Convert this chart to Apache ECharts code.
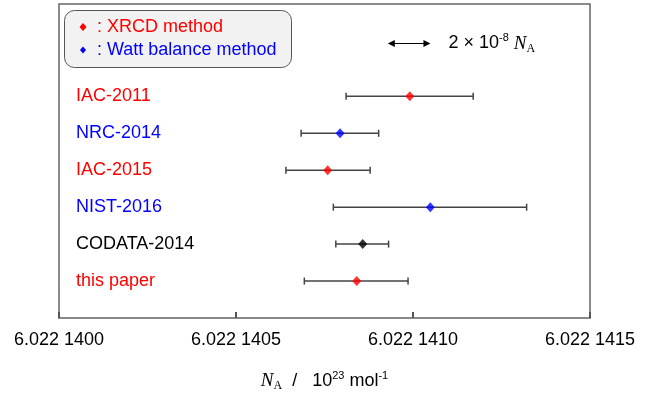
<!DOCTYPE html>
<html><head><meta charset="utf-8">
<script src="https://cdn.jsdelivr.net/npm/echarts@6/dist/echarts.min.js"></script>
<style>html,body{margin:0;padding:0;background:#fff}#c{width:650px;height:394px}</style>
</head><body><div id="c"></div>
<script>
// values in units of 1e16 mol^-1 (last digits after 6.022 1...)
const labels  = ['IAC-2011','NRC-2014','IAC-2015','NIST-2016','CODATA-2014','this paper'];
const centers = [1409.91, 1407.94, 1407.59, 1410.49, 1408.58, 1408.41];
const lows    = [1408.11, 1406.84, 1406.41, 1407.75, 1407.82, 1406.93];
const highs   = [1411.70, 1409.03, 1408.79, 1413.21, 1409.31, 1409.86];
const colors  = ['#ff0000','#0000ff','#ff0000','#0000ff','#000000','#ff0000'];
const xTickLabels = ['6.022 1400','6.022 1405','6.022 1410','6.022 1415'];
const xMin = 1400, xMax = 1415, xStep = 5;
const legendItems = [': XRCD method', ': Watt balance method'];
const legendColors = ['#ff0000', '#0000ff'];
const scaleBarCenter = 1409.89, scaleBarRow = -1.45, scaleBarWidth = 1.2044; // 2e-8 * N_A

const FONT = '"Liberation Sans", Arial, sans-serif';
const SERIF = '"Liberation Serif", "Times New Roman", serif';

const chart = echarts.init(document.getElementById('c'));

function diamond(cx, cy, w, h, color) {
  return {type:'polygon', shape:{points:[[cx,cy-h/2],[cx+w/2,cy],[cx,cy+h/2],[cx-w/2,cy]]}, style:{fill:color}};
}

chart.setOption({
  animation: false,
  grid: {left: 59, right: 60, top: 4, bottom: 76, show: true, borderColor: '#666', borderWidth: 1.5,
         containLabel: false, outerBoundsMode: 'none'},
  xAxis: {
    type: 'value', min: xMin, max: xMax, interval: xStep,
    axisLine: {show: true, onZero: false, lineStyle: {color: '#888', width: 2}},
    axisTick: {show: true, inside: true, length: 6, lineStyle: {color: '#555', width: 2}},
    splitLine: {show: false},
    axisLabel: {
      color: '#000', fontSize: 18, fontFamily: FONT, margin: 13,
      formatter: v => xTickLabels[Math.round((v - xMin) / xStep)]
    },
    name: '{ni|N}{sub|A}{t|  /   10}{sup|23}{t| mol}{sup|-1}',
    nameLocation: 'middle', nameGap: 52,
    nameTextStyle: {
      rich: {
        ni: {fontFamily: SERIF, fontStyle: 'italic', fontSize: 19, color: '#000', lineHeight: 22, verticalAlign: 'middle'},
        sub: {fontFamily: SERIF, fontSize: 12, color: '#000', lineHeight: 12, verticalAlign: 'bottom'},
        t: {fontFamily: FONT, fontSize: 18, color: '#000', lineHeight: 22, verticalAlign: 'middle'},
        sup: {fontFamily: FONT, fontSize: 11, color: '#000', lineHeight: 11, verticalAlign: 'top'}
      }
    }
  },
  yAxis: {
    type: 'value', min: -2.5, max: 6, inverse: true,
    axisLine: {show: false}, axisTick: {show: false}, axisLabel: {show: false}, splitLine: {show: false}
  },
  series: [
    {
      type: 'custom', z: 2,
      data: labels.map((l, i) => [lows[i], highs[i], i]),
      encode: {x: [0, 1], y: 2},
      renderItem: (params, api) => {
        const p1 = api.coord([api.value(0), api.value(2)]);
        const p2 = api.coord([api.value(1), api.value(2)]);
        const st = {stroke: '#444', lineWidth: 1.5};
        return {type: 'group', children: [
          {type: 'line', shape: {x1: p1[0], y1: p1[1], x2: p2[0], y2: p2[1]}, style: st},
          {type: 'line', shape: {x1: p1[0], y1: p1[1]-3.5, x2: p1[0], y2: p1[1]+3.5}, style: st},
          {type: 'line', shape: {x1: p2[0], y1: p2[1]-3.5, x2: p2[0], y2: p2[1]+3.5}, style: st}
        ]};
      }
    },
    {
      type: 'scatter', z: 3, symbol: 'diamond', symbolSize: [9, 10],
      data: centers.map((c, i) => ({value: [c, i], itemStyle: {color: colors[i]}}))
    },
    {
      type: 'custom', z: 3,
      data: labels.map((l, i) => [xMin, i]),
      renderItem: (params, api) => {
        const i = params.dataIndex;
        const p = api.coord([api.value(0), api.value(1)]);
        return {type: 'text', style: {text: labels[i], x: p[0] + 17, y: p[1], fill: colors[i],
          font: '18px ' + FONT, verticalAlign: 'middle', align: 'left'}};
      }
    },
    {
      type: 'custom', z: 3,
      data: [[scaleBarCenter, scaleBarRow]],
      renderItem: (params, api) => {
        const a = api.coord([api.value(0) - scaleBarWidth / 2, api.value(1)]);
        const b = api.coord([api.value(0) + scaleBarWidth / 2, api.value(1)]);
        const y = Math.round(a[1]) + 0.5;
        return {type: 'group', children: [
          {type: 'line', shape: {x1: a[0] + 4, y1: y, x2: b[0] - 4, y2: y}, style: {stroke: '#000', lineWidth: 1.2}},
          {type: 'polygon', shape: {points: [[a[0], y], [a[0] + 7, y - 3.5], [a[0] + 7, y + 3.5]]}, style: {fill: '#000'}},
          {type: 'polygon', shape: {points: [[b[0], y], [b[0] - 7, y - 3.5], [b[0] - 7, y + 3.5]]}, style: {fill: '#000'}},
          {type: 'text', style: {
            text: '{t|2 × 10}{sup|-8}{t| }{ni|N}{sub|A}', x: b[0] + 18, y: y, verticalAlign: 'middle', align: 'left',
            rich: {
              t: {fontFamily: FONT, fontSize: 18, fill: '#000', lineHeight: 22, verticalAlign: 'middle'},
              sup: {fontFamily: FONT, fontSize: 11, fill: '#000', lineHeight: 11, verticalAlign: 'top'},
              ni: {fontFamily: SERIF, fontStyle: 'italic', fontSize: 19, fill: '#000', lineHeight: 22, verticalAlign: 'middle'},
              sub: {fontFamily: SERIF, fontSize: 12, fill: '#000', lineHeight: 12, verticalAlign: 'bottom'}
            }
          }}
        ]};
      }
    }
  ],
  graphic: [{
    type: 'group', z: 10,
    children: [
      {type: 'rect', shape: {x: 64.5, y: 10.5, width: 227, height: 57, r: 10}, style: {fill: '#f2f2f2', stroke: '#555', lineWidth: 1}},
      diamond(83, 27, 7, 8, legendColors[0]),
      diamond(83, 50, 6, 7, legendColors[1]),
      {type: 'text', style: {text: legendItems[0], x: 97, y: 27, fill: legendColors[0], font: '18px ' + FONT, verticalAlign: 'middle'}},
      {type: 'text', style: {text: legendItems[1], x: 97, y: 50, fill: legendColors[1], font: '18px ' + FONT, verticalAlign: 'middle'}}
    ]
  }]
});
</script></body></html>
